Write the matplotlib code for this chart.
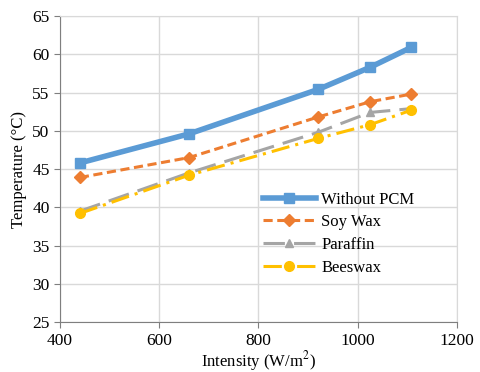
import numpy as np
import matplotlib
matplotlib.use("Agg")
import matplotlib.pyplot as plt

plt.rcParams['font.family'] = ['Liberation Serif', 'DejaVu Serif']
plt.rcParams['mathtext.fontset'] = 'stix'

intensity = [440, 660, 920, 1025, 1108]
without_pcm = [45.8, 49.6, 55.4, 58.3, 60.9]
soy_wax = [43.9, 46.5, 51.8, 53.8, 54.8]
paraffin = [39.5, 44.5, 49.8, 52.4, 52.9]
beeswax = [39.2, 44.2, 49.0, 50.8, 52.7]

fig = plt.figure(figsize=(4.8, 3.72), dpi=100)
ax = fig.add_axes([0.125, 0.134, 0.827, 0.823])

ax.plot(intensity, without_pcm, color='#5B9BD5', lw=4, marker='s', ms=7, label='Without PCM')
ax.plot(intensity, soy_wax, color='#ED7D31', lw=2.2, ls=(0, (3, 1.5)), marker='D', ms=6, label='Soy Wax')
ax.plot(intensity, paraffin, color='#A5A5A5', lw=2.2, ls=(0, (7, 3)), marker='^', ms=6, label='Paraffin')
ax.plot(intensity, beeswax, color='#FFC000', lw=2.2, ls=(0, (6, 2, 1, 2)), marker='o', ms=7, label='Beeswax')

ax.set_xlim(400, 1200)
ax.set_ylim(25, 65)
ax.set_xticks(np.arange(400, 1201, 200))
ax.set_yticks(np.arange(25, 66, 5))
ax.grid(True, color='#D9D9D9', lw=1)
ax.set_axisbelow(True)
for s in ['top', 'right']:
    ax.spines[s].set_color('#D9D9D9')
for s in ['left', 'bottom']:
    ax.spines[s].set_color('#7F7F7F')
ax.tick_params(labelsize=12.5, length=4, color='#7F7F7F')
ax.set_xlabel('Intensity (W/m$^{2}$)', fontsize=12, labelpad=0)
ax.set_ylabel('Temperature (°C)', fontsize=12, labelpad=4)

ax.legend(loc='upper left', bbox_to_anchor=(0.494, 0.448), frameon=False, fontsize=12,
          handlelength=3.2, handletextpad=0.3, labelspacing=0.4, borderaxespad=0)

fig.savefig('out.png', dpi=100)
